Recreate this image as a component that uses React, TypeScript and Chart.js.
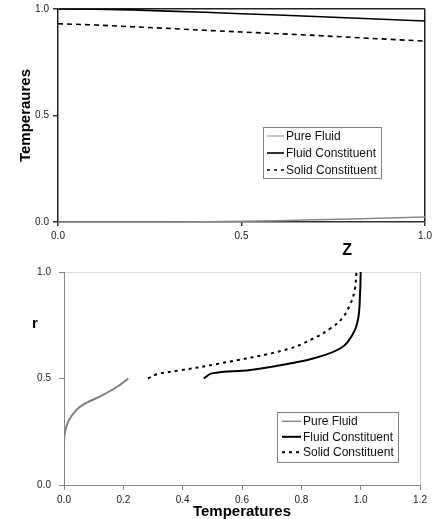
import React, { useEffect, useRef } from "react";
import { Chart, registerables } from "chart.js";

Chart.register(...registerables);

// ---------- Top chart data (Temperatures vs Z) ----------
const zValues = [0, 0.1, 0.2, 0.3, 0.4, 0.5, 0.6, 0.7, 0.8, 0.9, 1.0];
const topPureFluid = [0, 0, 0, 0, 0.001, 0.003, 0.006, 0.01, 0.014, 0.019, 0.024];
const topFluidConstituent = [1.0, 0.999, 0.996, 0.99, 0.985, 0.978, 0.972, 0.965, 0.958, 0.951, 0.944];
const topSolidConstituent = [0.931, 0.925, 0.917, 0.909, 0.9, 0.892, 0.884, 0.876, 0.867, 0.858, 0.849];
const topXTicks = [0, 0.5, 1.0];
const topYTicks = [0, 0.5, 1.0];

// ---------- Bottom chart data (r vs Temperatures) ----------
const pureFluidT = [0, 0, 0, 0.003, 0.015, 0.043, 0.077, 0.122, 0.178, 0.217];
const pureFluidR = [0, 0.1, 0.2, 0.245, 0.3, 0.354, 0.387, 0.416, 0.46, 0.5];
const fluidT = [0.471, 0.499, 0.628, 0.752, 0.842, 0.932, 0.972, 0.991, 0.998, 1.0];
const fluidR = [0.5, 0.524, 0.54, 0.568, 0.595, 0.642, 0.704, 0.775, 0.9, 1.0];
const solidT = [0.283, 0.313, 0.386, 0.516, 0.752, 0.842, 0.899, 0.938, 0.966, 0.98, 0.986];
const solidR = [0.5, 0.52, 0.537, 0.568, 0.637, 0.689, 0.736, 0.783, 0.853, 0.915, 1.0];
const bottomXTicks = [0, 0.2, 0.4, 0.6, 0.8, 1.0, 1.2];
const bottomYTicks = [0, 0.5, 1.0];

const seriesLabels = ["Pure Fluid", "Fluid Constituent", "Solid Constituent"];

const FONT = "Arial, 'Liberation Sans', sans-serif";

const toPoints = (xs: number[], ys: number[]) => xs.map((x, i) => ({ x, y: ys[i] }));

type LegendItem = { label: string; color: string; width: number; dash: number[] };

const boxLegendPlugin = {
  id: "boxLegend",
  afterDraw(chart: any, _args: any, opts: any) {
    if (!opts || !opts.items) return;
    const ctx = chart.ctx;
    ctx.save();
    ctx.fillStyle = "#fff";
    ctx.fillRect(opts.x, opts.y, opts.w, opts.h);
    ctx.strokeStyle = "#808080";
    ctx.lineWidth = 1;
    ctx.strokeRect(opts.x + 0.5, opts.y + 0.5, opts.w, opts.h);
    ctx.font = `12px ${FONT}`;
    ctx.textBaseline = "middle";
    ctx.textAlign = "left";
    opts.items.forEach((it: LegendItem, i: number) => {
      const yy = opts.y + opts.firstRow + i * opts.rowH;
      ctx.beginPath();
      ctx.strokeStyle = it.color;
      ctx.lineWidth = it.width;
      ctx.setLineDash(it.dash);
      ctx.moveTo(opts.x + opts.lineStart, yy);
      ctx.lineTo(opts.x + opts.lineStart + opts.lineLen, yy);
      ctx.stroke();
      ctx.setLineDash([]);
      ctx.fillStyle = "#111";
      ctx.fillText(it.label, opts.x + opts.textStart, yy + 0.5);
    });
    ctx.restore();
  },
};

const freeTitlePlugin = {
  id: "freeTitle",
  afterDraw(chart: any, _args: any, opts: any) {
    if (!opts || !opts.titles) return;
    const ctx = chart.ctx;
    ctx.save();
    opts.titles.forEach((t: any) => {
      const xs = chart.scales.x;
      const ys = chart.scales.y;
      const px = t.xValue !== undefined ? xs.getPixelForValue(t.xValue) : chart.chartArea.left + t.dx;
      const py = t.yValue !== undefined ? ys.getPixelForValue(t.yValue) : chart.chartArea.bottom + t.dy;
      ctx.font = `bold ${t.size}px ${FONT}`;
      ctx.fillStyle = "#000";
      ctx.textAlign = "center";
      ctx.textBaseline = "middle";
      ctx.fillText(t.text, px, py);
    });
    ctx.restore();
  },
};

function TopChart() {
  const ref = useRef<HTMLCanvasElement>(null);
  useEffect(() => {
    if (!ref.current) return;
    const chart = new Chart(ref.current, {
      type: "scatter",
      data: {
        datasets: [
          {
            label: seriesLabels[0],
            data: toPoints(zValues, topPureFluid),
            showLine: true,
            borderColor: "#8a8a8a",
            borderWidth: 1.5,
            pointRadius: 0,
          },
          {
            label: seriesLabels[1],
            data: toPoints(zValues, topFluidConstituent),
            showLine: true,
            borderColor: "#000",
            borderWidth: 1.6,
            pointRadius: 0,
          },
          {
            label: seriesLabels[2],
            data: toPoints(zValues, topSolidConstituent),
            showLine: true,
            borderColor: "#000",
            borderWidth: 1.6,
            borderDash: [5, 4],
            pointRadius: 0,
          },
        ],
      },
      options: {
        responsive: false,
        animation: false,
        layout: { padding: { top: 9, right: 7, left: 0, bottom: 0 } },
        plugins: {
          legend: { display: false },
          tooltip: { enabled: false },
          boxLegend: {
            x: 263, y: 127, w: 118, h: 51, firstRow: 9, rowH: 17,
            lineStart: 4, lineLen: 17, textStart: 23,
            items: [
              { label: seriesLabels[0], color: "#8a8a8a", width: 1, dash: [] },
              { label: seriesLabels[1], color: "#000", width: 1.6, dash: [] },
              { label: seriesLabels[2], color: "#000", width: 1.6, dash: [3, 4] },
            ],
          },
          freeTitle: { titles: [{ text: "Z", size: 16, xValue: 0.788, dy: 29 }] },
        } as any,
        scales: {
          x: {
            type: "linear",
            min: 0,
            max: 1,
            afterBuildTicks: (s: any) => { s.ticks = topXTicks.map((v) => ({ value: v })); },
            afterFit: (s: any) => { s.height = 38; s.paddingRight = 0; s.paddingLeft = 0; },
            ticks: {
              font: { size: 10, family: FONT },
              color: "#222",
              padding: 4,
              callback: (v: any) => Number(v).toFixed(1),
              maxRotation: 0,
            },
            grid: {
              color: (c: any) => (c.tick && c.tick.value === 1 ? "#222" : "rgba(0,0,0,0)"),
              lineWidth: 1.5,
              tickColor: "#333",
              tickLength: 4,
            },
            border: { display: true, color: "#333", width: 1.5 },
          },
          y: {
            type: "linear",
            min: 0,
            max: 1,
            afterBuildTicks: (s: any) => { s.ticks = topYTicks.map((v) => ({ value: v })); },
            afterFit: (s: any) => { s.width = 58; s.paddingTop = 0; s.paddingBottom = 0; },
            ticks: {
              font: { size: 10, family: FONT },
              color: "#222",
              padding: 4,
              callback: (v: any) => Number(v).toFixed(1),
            },
            grid: {
              color: (c: any) => (c.tick && c.tick.value === 1 ? "#222" : "rgba(0,0,0,0)"),
              lineWidth: 1.5,
              tickColor: "#333",
              tickLength: 5,
            },
            border: { display: true, color: "#222", width: 1.5 },
            title: {
              display: true,
              text: "Temperaures",
              font: { size: 15, weight: "bold", family: FONT },
              color: "#000",
              padding: { top: 17, bottom: 0 },
            },
          },
        },
      },
      plugins: [boxLegendPlugin, freeTitlePlugin],
    });
    return () => chart.destroy();
  }, []);
  return <canvas ref={ref} width={432} height={260} style={{ display: "block" }} />;
}

function BottomChart() {
  const ref = useRef<HTMLCanvasElement>(null);
  useEffect(() => {
    if (!ref.current) return;
    const chart = new Chart(ref.current, {
      type: "scatter",
      data: {
        datasets: [
          {
            label: seriesLabels[0],
            data: toPoints(pureFluidT, pureFluidR),
            showLine: true,
            borderColor: "#7f7f7f",
            borderWidth: 2,
            pointRadius: 0,
            tension: 0.4,
          },
          {
            label: seriesLabels[1],
            data: toPoints(fluidT, fluidR),
            showLine: true,
            borderColor: "#000",
            borderWidth: 2,
            pointRadius: 0,
            tension: 0.4,
          },
          {
            label: seriesLabels[2],
            data: toPoints(solidT, solidR),
            showLine: true,
            borderColor: "#000",
            borderWidth: 2,
            borderDash: [3, 4],
            pointRadius: 0,
            tension: 0.4,
          },
        ],
      },
      options: {
        responsive: false,
        animation: false,
        layout: { padding: { top: 12, right: 12, left: 0, bottom: 0 } },
        plugins: {
          legend: { display: false },
          tooltip: { enabled: false },
          boxLegend: {
            x: 277, y: 152, w: 121, h: 50, firstRow: 9.3, rowH: 15.5,
            lineStart: 5, lineLen: 19, textStart: 26,
            items: [
              { label: seriesLabels[0], color: "#8a8a8a", width: 1.5, dash: [] },
              { label: seriesLabels[1], color: "#000", width: 2, dash: [] },
              { label: seriesLabels[2], color: "#000", width: 2, dash: [3, 4] },
            ],
          },
          freeTitle: { titles: [{ text: "r", size: 15, dx: -29, yValue: 0.756 }] },
        } as any,
        scales: {
          x: {
            type: "linear",
            min: 0,
            max: 1.2,
            afterBuildTicks: (s: any) => { s.ticks = bottomXTicks.map((v) => ({ value: v })); },
            afterFit: (s: any) => { s.height = 34; s.paddingRight = 0; s.paddingLeft = 0; },
            ticks: {
              font: { size: 10, family: FONT },
              color: "#222",
              padding: 4,
              callback: (v: any) => Number(v).toFixed(1),
              maxRotation: 0,
            },
            grid: {
              color: (c: any) => (c.tick && Math.abs(c.tick.value - 1.2) < 1e-9 ? "#c8c8c8" : "rgba(0,0,0,0)"),
              lineWidth: 1,
              tickColor: "#888",
              tickLength: 5,
            },
            border: { display: true, color: "#888", width: 1 },
            title: {
              display: true,
              text: "Temperatures",
              font: { size: 15, weight: "bold", family: FONT },
              color: "#000",
              padding: { top: 0, bottom: -2 },
            },
          },
          y: {
            type: "linear",
            min: 0,
            max: 1,
            afterBuildTicks: (s: any) => { s.ticks = bottomYTicks.map((v) => ({ value: v })); },
            afterFit: (s: any) => { s.width = 64; s.paddingTop = 0; s.paddingBottom = 0; },
            ticks: {
              font: { size: 10, family: FONT },
              color: "#222",
              padding: 8,
              callback: (v: any) => Number(v).toFixed(1),
            },
            grid: {
              color: (c: any) => (c.tick && c.tick.value === 1 ? "#dcdcdc" : "rgba(0,0,0,0)"),
              lineWidth: 1,
              tickColor: "#888",
              tickLength: 5,
            },
            border: { display: true, color: "#888", width: 1 },
          },
        },
      },
      plugins: [boxLegendPlugin, freeTitlePlugin],
    });
    return () => chart.destroy();
  }, []);
  return <canvas ref={ref} width={432} height={259} style={{ display: "block" }} />;
}

export default function App() {
  return (
    <div style={{ position: "absolute", left: 0, top: 0, width: 432, height: 519, background: "#fff" }}>
      <TopChart />
      <BottomChart />
    </div>
  );
}
